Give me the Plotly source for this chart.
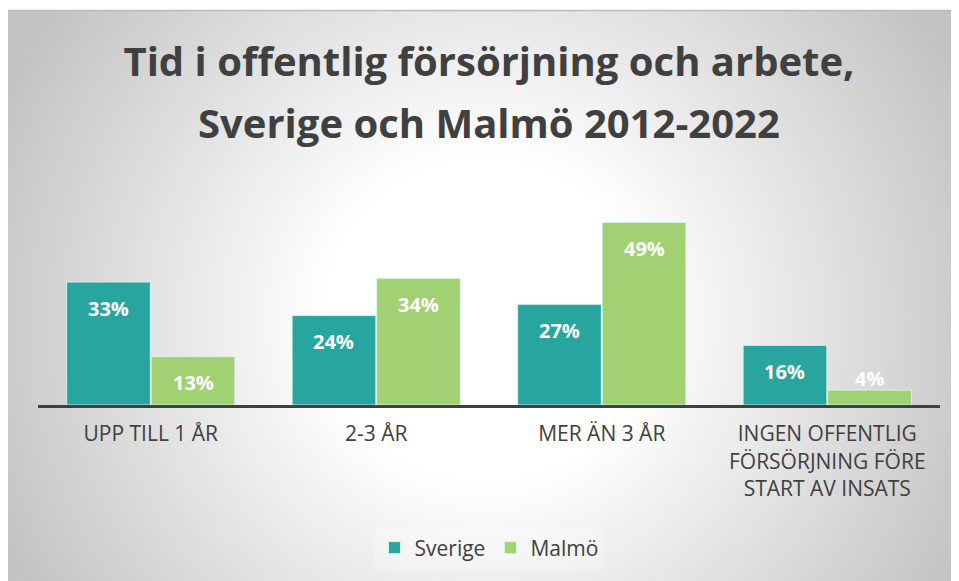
import base64
import plotly.graph_objects as go

categories = ["UPP TILL 1 ÅR", "2-3 ÅR", "MER ÄN 3 ÅR",
              "INGEN OFFENTLIG<br>FÖRSÖRJNING FÖRE<br>START AV INSATS"]
sverige = [33, 24, 27, 16]
malmo = [13, 34, 49, 4]
series_names = ["Sverige", "Malmö"]
colors = ["#28A59F", "#A2D173"]
title_lines = ["Tid i offentlig försörjning och arbete,", "Sverige och Malmö 2012-2022"]

W, H = 959, 581
ML, MR, MT, MB = 30, 27, 192, 184
PW, PH = W - ML - MR, H - MT - MB
YMAX = 55
BARGAP = 0.25

fig = go.Figure()
for name, vals, col in zip(series_names, [sverige, malmo], colors):
    fig.add_trace(go.Bar(
        x=categories, y=vals, name=name,
        marker=dict(color=col, line=dict(color="rgba(220,245,240,0.9)", width=1)),
        hoverinfo="skip",
    ))

# data labels (Excel-style "inside end")
cat_w = PW / len(categories)
bar_w = cat_w * (1 - BARGAP) / 2
px_per_unit = PH / YMAX
for i, vals in enumerate([sverige, malmo]):
    xshift = (i - 0.5) * bar_w
    for c, v in zip(categories, vals):
        inside = v * px_per_unit > 30
        fig.add_annotation(
            x=c, y=v, xref="x", yref="y", text=f"{v}%", showarrow=False,
            xshift=xshift, yshift=-26 if inside else 12,
            font=dict(family="Open Sans", size=20, color="white", weight="bold"),
        )

# second title line
fig.add_annotation(
    text=title_lines[1], xref="paper", yref="paper", x=0.5, xanchor="center",
    y=1 + (MT - 114) / PH, yanchor="middle", showarrow=False,
    font=dict(family="Open Sans", size=40, color="#404040", weight="bold"),
)

svg = (
    f'<svg xmlns="http://www.w3.org/2000/svg" width="{W}" height="{H}" viewBox="0 0 {W} {H}">'
    '<defs><radialGradient id="g" gradientUnits="userSpaceOnUse" cx="477" cy="312" r="530">'
    '<stop offset="0" stop-color="#ffffff"/><stop offset="0.3" stop-color="#ffffff"/>'
    '<stop offset="1" stop-color="#c3c3c3"/></radialGradient></defs>'
    '<rect x="0" y="2" width="948" height="600" fill="url(#g)"/>'
    '<line x1="0" y1="2.5" x2="948" y2="2.5" stroke="#bcbcbc" stroke-width="1.5"/>'
    '</svg>'
)
uri = "data:image/svg+xml;base64," + base64.b64encode(svg.encode("utf-8")).decode()

fig.add_layout_image(dict(
    source=uri, xref="paper", yref="paper",
    x=-ML / PW, y=1 + MT / PH, sizex=W / PW, sizey=H / PH,
    xanchor="left", yanchor="top", sizing="stretch", layer="below",
))

fig.update_layout(
    width=W, height=H,
    margin=dict(l=ML, r=MR, t=MT, b=MB, autoexpand=False),
    paper_bgcolor="white", plot_bgcolor="rgba(0,0,0,0)",
    barmode="group", bargap=BARGAP, bargroupgap=0.01,
    font=dict(family="Open Sans", color="#404040"),
    title=dict(
        text=title_lines[0],
        font=dict(family="Open Sans", size=40, color="#404040", weight="bold"),
        x=0.5, xanchor="center", xref="paper", y=1 - 54 / H, yanchor="middle", yref="container",
    ),
    xaxis=dict(
        showline=True, linecolor="#404040", linewidth=3, ticks="",
        tickfont=dict(family="Open Sans", size=21, color="#404040"),
        ticklabelstandoff=8,
        showgrid=False, zeroline=False, fixedrange=True,
    ),
    yaxis=dict(range=[0, YMAX], visible=False, showgrid=False, zeroline=False),
    legend=dict(
        orientation="h", x=0.5, xanchor="center", xref="paper",
        y=(H - 540) / H, yanchor="middle", yref="container",
        font=dict(family="Open Sans", size=21, color="#404040"),
        bgcolor="rgba(255,255,255,0.25)", traceorder="normal",
    ),
    showlegend=True,
)

fig.write_html("out.html")
